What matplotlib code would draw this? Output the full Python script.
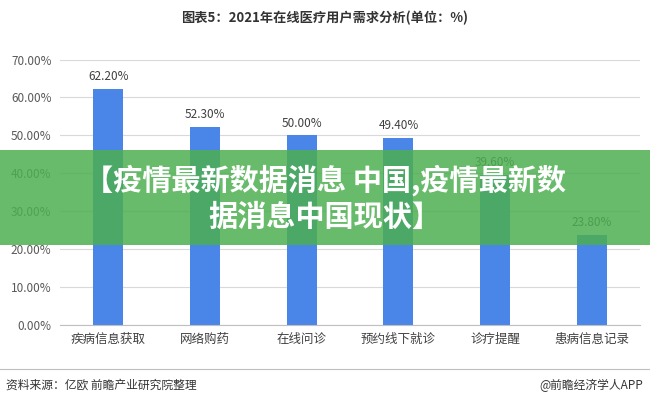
import matplotlib
matplotlib.use("Agg")
import matplotlib.pyplot as plt
from matplotlib.patches import Rectangle

plt.rcParams['font.family'] = ['Noto Sans CJK SC', 'DejaVu Sans']

categories = ["疾病信息获取", "网络购药", "在线问诊", "预约线下就诊", "诊疗提醒", "患病信息记录"]
values = [62.2, 52.3, 50.0, 49.4, 39.6, 23.8]
yticks = [0, 10, 20, 30, 40, 50, 60, 70]

fig = plt.figure(figsize=(6.5, 4.05), dpi=100)
ax = fig.add_axes([0.092, 0.198, 0.893, 0.655])
x = range(len(categories))
ax.bar(x, values, width=0.31, color="#4a86e8", zorder=2)
for i, v in zip(x, values):
    ax.text(i, v + 1.5, f"{v:.2f}%", ha="center", va="bottom", fontsize=8.5, color="#404040")
ax.set_ylim(0, 70)
ax.set_xlim(-0.5, len(categories) - 0.5)
ax.set_yticks(yticks)
ax.set_yticklabels([f"{t:.2f}%" for t in yticks], fontsize=8.5, color="#595959")
ax.set_xticks(list(x))
ax.set_xticklabels(categories, fontsize=9, color="#404040")
ax.grid(axis="y", color="#d9d9d9", linewidth=0.8, zorder=0)
for s in ["top", "right", "left"]:
    ax.spines[s].set_visible(False)
ax.spines["bottom"].set_color("#bfbfbf")
ax.tick_params(length=0, pad=6)

fig.text(0.5, 0.955, "图表5：2021年在线医疗用户需求分析(单位：%)", ha="center", va="center",
         fontsize=9.5, fontweight="bold", color="#333333")

fig.add_artist(plt.Line2D([0.0, 1.0], [0.09, 0.09], color="#bfbfbf", linewidth=0.8))
fig.text(0.01, 0.048, "资料来源：亿欧 前瞻产业研究院整理", fontsize=8.5, color="#333333", va="center")
fig.text(0.99, 0.048, "@前瞻经济学人APP", fontsize=8.5, color="#333333", va="center", ha="right")

fig.add_artist(Rectangle((0, 0.395), 1, 0.235, transform=fig.transFigure,
                         facecolor="#4caf50", alpha=0.85, zorder=5))
fig.text(0.5, 0.51, "【疫情最新数据消息 中国,疫情最新数\n据消息中国现状】", ha="center", va="center",
         fontsize=21, fontweight="bold", color="white", zorder=6, linespacing=1.25)

fig.savefig("out.png", dpi=100)
